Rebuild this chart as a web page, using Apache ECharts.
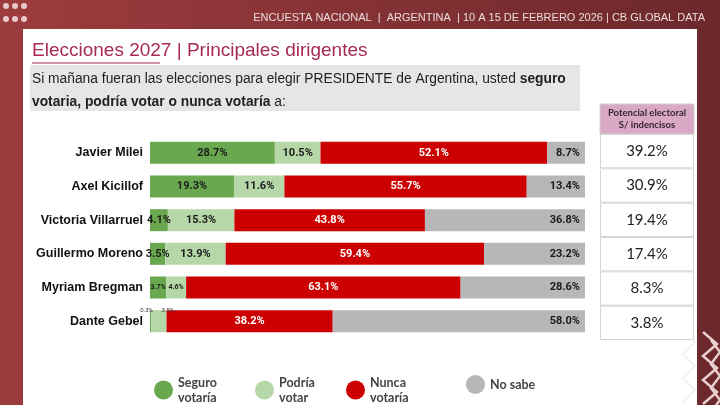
<!DOCTYPE html>
<html><head><meta charset="utf-8">
<script src="https://cdn.jsdelivr.net/npm/echarts@6/dist/echarts.min.js"></script>
<style>html,body{margin:0;padding:0;background:#fff}#c{width:720px;height:405px}</style>
</head><body><div id="c"></div>
<script>
const categories = ['Javier Milei','Axel Kicillof','Victoria Villarruel','Guillermo Moreno','Myriam Bregman','Dante Gebel'];
const seguro = [28.7, 19.3, 4.1, 3.5, 3.7, 0.3];
const podria = [10.5, 11.6, 15.3, 13.9, 4.6, 3.5];
const nunca  = [52.1, 55.7, 43.8, 59.4, 63.1, 38.2];
const nosabe = [8.7, 13.4, 36.8, 23.2, 28.6, 58.0];
const potencial = [39.2, 30.9, 19.4, 17.4, 8.3, 3.8];
const seriesNames = ['Seguro\nvotaría', 'Podría\nvotar', 'Nunca\nvotaría', 'No sabe'];
const colors = ['#6aa84f', '#b6d7a8', '#cc0000', '#b7b7b7'];

const chart = echarts.init(document.getElementById('c'));
const fmt = p => p.value.toFixed(1) + '%';
const baseLabel = (color, pos) => ({show: true, position: pos, color: color, fontFamily: 'Roboto', fontWeight: 'bold', fontSize: 11, formatter: fmt});

function withOverrides(values, overrides) {
  return values.map((v, i) => overrides[i] ? {value: v, label: overrides[i]} : v);
}
const seguroData = withOverrides(seguro, {
  4: {fontSize: 7},
  5: {position: 'top', distance: -3, offset: [-4, 0], fontSize: 6, color: '#333', fontWeight: 'normal'}
});
const podriaData = withOverrides(podria, {
  4: {fontSize: 7},
  5: {position: 'top', distance: -3, offset: [9, 0], fontSize: 6, color: '#333', fontWeight: 'normal'}
});

const legendPos = [149, 250, 341, 461];
const legends = seriesNames.map((n, i) => ({
  left: legendPos[i], top: 370, icon: 'circle', itemWidth: 19, itemHeight: 19, itemGap: 0,
  data: [n], selectedMode: false,
  textStyle: {fontFamily: 'Lato', fontWeight: 'bold', fontSize: 12.5, color: '#444', lineHeight: 15}
}));

function zigzag(x0, y0, w, h, n) {
  const pts = [];
  for (let k = 0; k <= n; k++) pts.push([k % 2 ? x0 + w : x0, y0 + k * h]);
  return pts;
}

const option = {
  animation: false,
  color: colors,
  graphic: [
    {type: 'rect', z: -10, shape: {x: 0, y: 0, width: 720, height: 405},
     style: {fill: new echarts.graphic.LinearGradient(0, 0, 1, 0, [{offset: 0, color: '#9d3c3e'}, {offset: 1, color: '#6c282b'}])}},
    {type: 'rect', z: -9, shape: {x: 23, y: 29, width: 674, height: 376}, style: {fill: '#ffffff'}},
    ...[[6,6],[15,6],[24,6],[6,19],[15,19],[24,19]].map(c => ({type: 'circle', z: -8, shape: {cx: c[0], cy: c[1], r: 3}, style: {fill: '#e9c9c9'}})),
    {type: 'text', z: -8, right: 15, top: 12, style: {text: 'ENCUESTA NACIONAL  |  ARGENTINA  | 10 A 15 DE FEBRERO 2026 | CB GLOBAL DATA', fill: '#ecdcdc', font: '11px "Liberation Sans Narrow", "Liberation Sans", sans-serif'}},
    {type: 'text', left: 32, top: 41, style: {text: 'Elecciones 2027 | Principales dirigentes', fill: '#a62a52', font: '19px "Liberation Sans", sans-serif'}},
    {type: 'line', shape: {x1: 32, y1: 63, x2: 160, y2: 63}, style: {stroke: '#a62a52', lineWidth: 1.2}},
    {type: 'rect', z: -7, shape: {x: 30, y: 65, width: 550, height: 46}, style: {fill: '#e6e6e6'}},
    {type: 'text', left: 32, top: 68, style: {
      text: 'Si mañana fueran las elecciones para elegir PRESIDENTE de Argentina, usted {b|seguro}\n{b|votaria, podría votar o nunca votaría} a:',
      fill: '#222', font: '13.8px "Liberation Sans", sans-serif', lineHeight: 23,
      rich: {b: {fontWeight: 'bold', fontSize: 13.8, fontFamily: 'Liberation Sans', fill: '#222'}}}},
    {type: 'rect', shape: {x: 600, y: 104, width: 94, height: 30}, style: {fill: '#d9a8c5', stroke: '#d0d0d0', lineWidth: 1}},
    {type: 'text', style: {x: 647, y: 107, text: 'Potencial electoral\nS/ indencisos', fill: '#3a2430', align: 'center', verticalAlign: 'top', font: 'bold 9.5px Lato, sans-serif', lineHeight: 12}},
    {type: 'polyline', shape: {points: zigzag(703, 332, 14, 12, 6)}, style: {stroke: '#e8d0d0', lineWidth: 2.5, fill: null}},
    {type: 'polyline', shape: {points: zigzag(711, 340, 9, 12, 6)}, style: {stroke: '#e8d0d0', lineWidth: 2.5, fill: null}},
    {type: 'polyline', shape: {points: zigzag(683, 330, 12, 12, 6)}, style: {stroke: '#eeeeee', lineWidth: 1.5, fill: null}}
  ],
  legend: legends,
  grid: [
    {left: 150, right: 135, top: 136, bottom: 67},
    {left: 600, width: 94, top: 134, height: 206}
  ],
  xAxis: [
    {type: 'value', min: 0, max: 100, show: false},
    {type: 'value', min: 0, max: 1, show: false, gridIndex: 1}
  ],
  yAxis: [
    {type: 'category', data: categories, inverse: true, axisLine: {show: false}, axisTick: {show: false},
     axisLabel: {margin: 7, color: '#111', fontFamily: 'Liberation Sans', fontWeight: 'bold', fontSize: 12.5}},
    {type: 'category', data: categories, inverse: true, show: false, gridIndex: 1}
  ],
  series: [
    {name: seriesNames[0], type: 'bar', stack: 't', barWidth: 22, data: seguroData, label: baseLabel('#1a1a1a', 'inside')},
    {name: seriesNames[1], type: 'bar', stack: 't', barWidth: 22, data: podriaData, label: baseLabel('#1a1a1a', 'inside')},
    {name: seriesNames[2], type: 'bar', stack: 't', barWidth: 22, data: nunca, label: baseLabel('#ffffff', 'inside')},
    {name: seriesNames[3], type: 'bar', stack: 't', barWidth: 22, data: nosabe, label: baseLabel('#1a1a1a', 'insideRight')},
    {name: 'Potencial', type: 'bar', xAxisIndex: 1, yAxisIndex: 1, barWidth: '100%', data: potencial.map(() => 1),
     itemStyle: {color: '#ffffff', borderColor: '#d4d4d4', borderWidth: 1}, silent: true,
     label: {show: true, position: 'inside', color: '#222', fontFamily: 'Lato', fontSize: 15,
             formatter: p => potencial[p.dataIndex].toFixed(1) + '%'}}
  ]
};
chart.setOption(option);
</script></body></html>
